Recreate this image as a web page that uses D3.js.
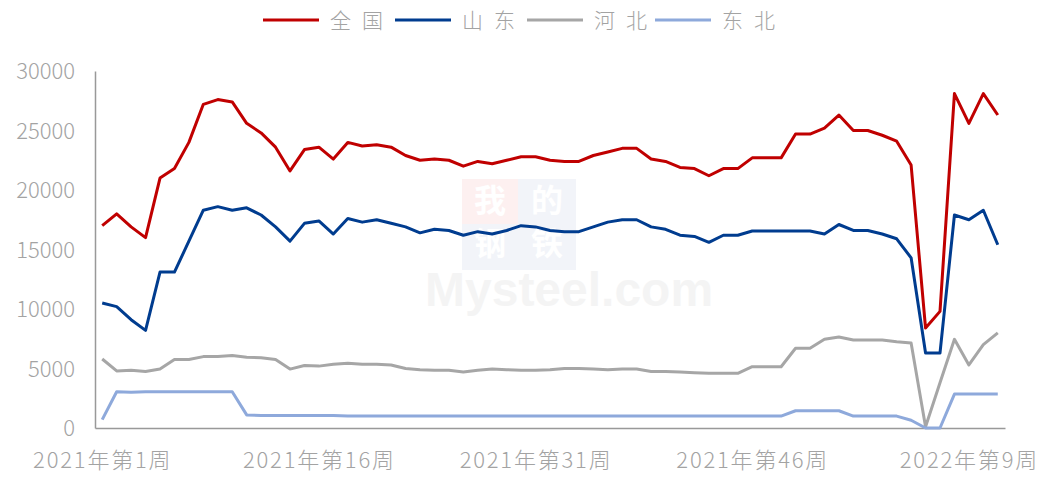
<!DOCTYPE html>
<html>
<head>
<meta charset="utf-8">
<script src="https://cdn.jsdelivr.net/npm/d3@7"></script>
<style>
  body { margin: 0; background: #fff; }
  svg text { font-family: "Noto Sans CJK SC", "Noto Sans", sans-serif; }
</style>
</head>
<body>
<svg id="canvas" width="1048" height="477"></svg>
<script>
// weeks: 2021 wk1..52, 2022 wk1..11
let weeks = []
for (let w = 1; w <= 52; w++) weeks.push('2021年第' + w + '周')
for (let w = 1; w <= 11; w++) weeks.push('2022年第' + w + '周')

let tickLabels = ['2021年第1周', '2021年第16周', '2021年第31周', '2021年第46周', '2022年第9周']
let yTicks = [0, 5000, 10000, 15000, 20000, 25000, 30000]

let quanguo = [17000, 18000, 16900, 16000, 21000, 21800, 24000, 27200, 27600, 27400,
  25600, 24800, 23600, 21600, 23400, 23600, 22600, 24000, 23700, 23800,
  23600, 22900, 22500, 22600, 22500, 22000, 22400, 22200, 22500, 22800,
  22800, 22500, 22400, 22400, 22900, 23200, 23500, 23500, 22600, 22400,
  21900, 21800, 21200, 21800, 21800, 22700, 22700, 22700, 24700, 24700,
  25200, 26300, 25000, 25000, 24600, 24100, 22100, 8400, 9800, 28100,
  25600, 28100, 26300]

let shandong = [10500, 10200, 9100, 8200, 13100, 13100, 15700, 18300, 18600, 18300,
  18500, 17900, 16900, 15700, 17200, 17400, 16300, 17600, 17300, 17500,
  17200, 16900, 16400, 16700, 16600, 16200, 16500, 16300, 16600, 17000,
  16900, 16600, 16500, 16500, 16900, 17300, 17500, 17500, 16900, 16700,
  16200, 16100, 15600, 16200, 16200, 16550, 16550, 16550, 16550, 16550,
  16300, 17100, 16600, 16600, 16300, 15900, 14300, 6300, 6300, 17900,
  17500, 18300, 15400]

let hebei = [5800, 4800, 4850, 4750, 4950, 5750, 5750, 6000, 6000, 6100,
  5950, 5900, 5750, 4950, 5250, 5200, 5350, 5450, 5350, 5350,
  5300, 5000, 4900, 4850, 4850, 4700, 4850, 4950, 4900, 4850,
  4850, 4900, 5000, 5000, 4950, 4900, 4950, 4950, 4750, 4750,
  4700, 4650, 4600, 4600, 4600, 5150, 5150, 5150, 6700, 6700,
  7450, 7650, 7400, 7400, 7400, 7250, 7150, 100, 3800, 7450,
  5300, 7000, 8000]

let dongbei = [700, 3050, 3000, 3050, 3050, 3050, 3050, 3050, 3050, 3050,
  1100, 1050, 1050, 1050, 1050, 1050, 1050, 1000, 1000, 1000,
  1000, 1000, 1000, 1000, 1000, 1000, 1000, 1000, 1000, 1000,
  1000, 1000, 1000, 1000, 1000, 1000, 1000, 1000, 1000, 1000,
  1000, 1000, 1000, 1000, 1000, 1000, 1000, 1000, 1450, 1450,
  1450, 1450, 1000, 1000, 1000, 1000, 650, 0, 0, 2850,
  2850, 2850, 2850]

let seriesNames = ['全国', '山东', '河北', '东北']
let seriesColors = ['#C00000', '#003C8F', '#A6A6A6', '#8EA9DB']
let seriesData = [quanguo, shandong, hebei, dongbei]

let canvas = d3.select('#canvas')
let plotLeft = 95, plotRight = 1005, plotTop = 71, plotBottom = 428
let textColor = '#A3A3A3'

let xScale = d3.scalePoint()
  .domain(weeks)
  .range([plotLeft, plotRight])
  .padding(0.5)

let yScale = d3.scaleLinear()
  .domain([0, 30000])
  .range([plotBottom, plotTop])

// watermark
let wm = canvas.append('g').attr('opacity', 0.45)
wm.append('rect').attr('x', 462).attr('y', 179).attr('width', 56).attr('height', 45).attr('fill', '#FBE0E0')
wm.append('rect').attr('x', 518).attr('y', 179).attr('width', 58).attr('height', 45).attr('fill', '#E3E8F2')
wm.append('rect').attr('x', 462).attr('y', 224).attr('width', 114).attr('height', 46).attr('fill', '#E3E8F2')
wm.selectAll('text.wmc')
  .data([['我', 490, 212], ['的', 547, 212], ['钢', 490, 255], ['铁', 547, 255]])
  .enter()
  .append('text')
  .attr('class', 'wmc')
  .attr('x', d => d[1])
  .attr('y', d => d[2])
  .attr('text-anchor', 'middle')
  .attr('font-size', 32)
  .attr('font-weight', 'bold')
  .attr('fill', '#FFFFFF')
  .text(d => d[0])
wm.append('text')
  .attr('x', 425).attr('y', 306)
  .attr('font-size', 48)
  .attr('font-weight', 'bold')
  .style('font-family', 'Arial, "Liberation Sans", sans-serif')
  .attr('fill', '#E8E8E8')
  .text('Mysteel.com')

// axes
let yAxis = d3.axisLeft(yScale)
  .tickValues(yTicks)
  .tickFormat(d3.format('d'))
  .tickSize(0)
  .tickPadding(20)
let yG = canvas.append('g').attr('transform', 'translate(' + plotLeft + ',0)').call(yAxis)
yG.select('.domain').attr('stroke', '#999').attr('stroke-width', 1.5)
yG.selectAll('text')
  .attr('font-size', 22)
  .attr('font-weight', 300)
  .attr('fill', textColor)
  .attr('dy', '0.35em')

let xAxis = d3.axisBottom(xScale)
  .tickValues(tickLabels)
  .tickSize(0)
  .tickPadding(24)
let xG = canvas.append('g').attr('transform', 'translate(0,' + plotBottom + ')').call(xAxis)
xG.select('.domain').attr('stroke', '#999').attr('stroke-width', 1.5)
xG.selectAll('text')
  .attr('font-size', 22)
  .attr('font-weight', 300)
  .attr('letter-spacing', 1.8)
  .attr('fill', textColor)
  .attr('dy', '0.71em')

// lines
let line = d3.line()
  .x((d, i) => xScale(weeks[i]))
  .y(d => yScale(d))

canvas.selectAll('path.series')
  .data(seriesData)
  .enter()
  .append('path')
  .attr('class', 'series')
  .attr('d', line)
  .attr('fill', 'none')
  .attr('stroke', (d, i) => seriesColors[i])
  .attr('stroke-width', 3)
  .attr('stroke-linejoin', 'round')

// legend
let legendX = [263, 395, 527, 655]
let legend = canvas.selectAll('g.legend')
  .data(seriesNames)
  .enter()
  .append('g')
  .attr('class', 'legend')
  .attr('transform', (d, i) => 'translate(' + legendX[i] + ',20)')
legend.append('line')
  .attr('x1', 0).attr('x2', 56)
  .attr('stroke', (d, i) => seriesColors[i])
  .attr('stroke-width', 3)
legend.append('text')
  .attr('x', 67)
  .attr('dy', '0.36em')
  .attr('font-size', 21)
  .attr('font-weight', 300)
  .attr('letter-spacing', 11)
  .attr('fill', textColor)
  .text(d => d)
</script>
</body>
</html>
